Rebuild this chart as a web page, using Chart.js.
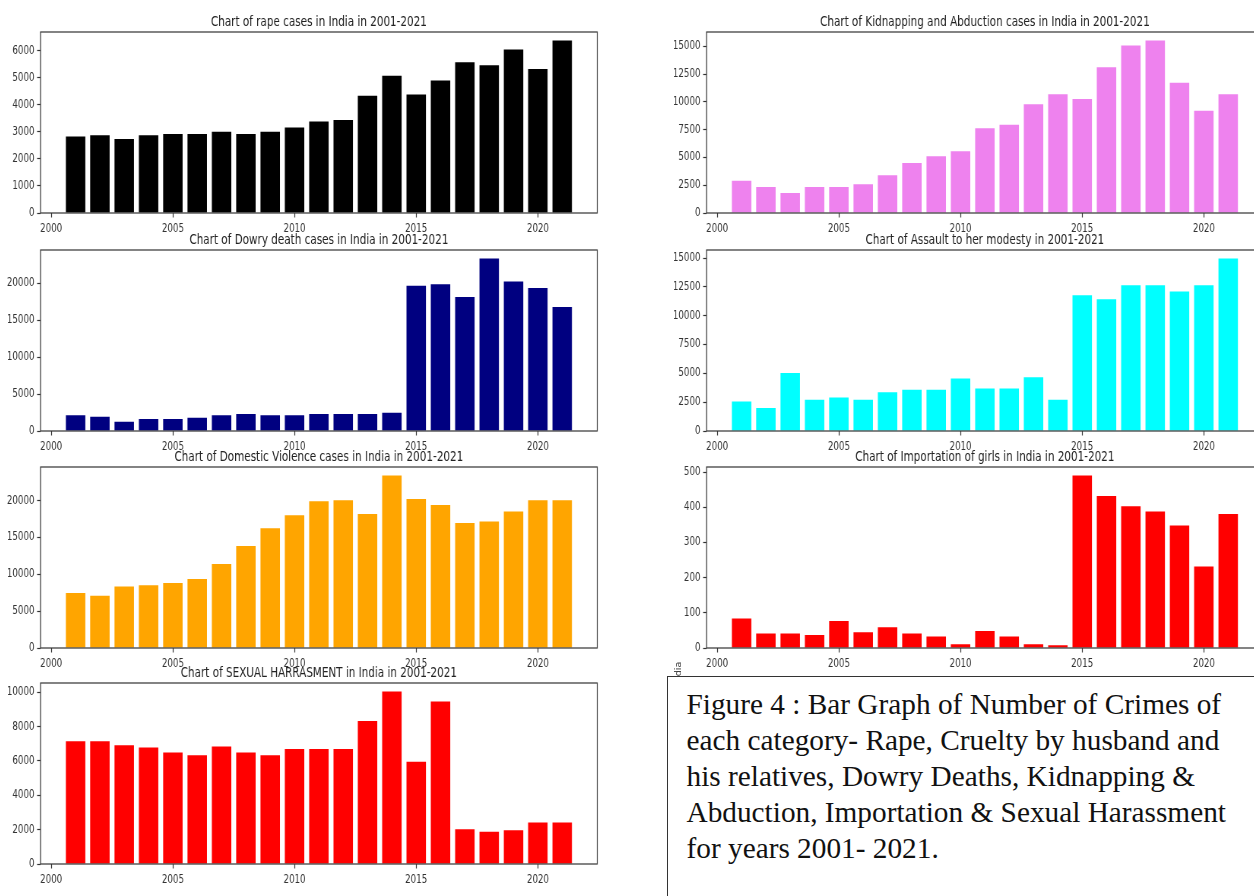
<!DOCTYPE html>
<html>
<head>
<meta charset="utf-8">
<script src="https://cdn.jsdelivr.net/npm/chart.js@4.4.0/dist/chart.umd.min.js"></script>
<style>
  body { margin: 0; width: 1254px; height: 896px; overflow: hidden; background: #fff; position: relative; }
  .panel { position: absolute; transform-origin: 0 0; }
  .ylab { position: absolute; left: 672px; top: 685px; font: 9.5px "DejaVu Sans"; color: #333;
          transform-origin: 0 0; transform: rotate(-90deg); white-space: nowrap; line-height: 12px; }
  .caption { position: absolute; left: 667px; top: 676px; width: 700px; height: 300px; box-sizing: border-box;
             border: 1.5px solid #333; background: #fff; color: #111; white-space: nowrap;
             font-family: "Liberation Serif", "Times New Roman", serif; font-size: 29.3px; line-height: 36.1px;
             padding: 9px 0 0 18.5px; }
</style>
</head>
<body>
<div class="ylab">India</div>
<div class="caption">Figure 4 : Bar Graph of Number of Crimes of<br>each category- Rape, Cruelty by husband and<br>his relatives, Dowry Deaths, Kidnapping &amp;<br>Abduction, Importation &amp; Sexual Harassment<br>for years 2001- 2021.</div>
<script>
const years = [2001, 2002, 2003, 2004, 2005, 2006, 2007, 2008, 2009, 2010, 2011,
               2012, 2013, 2014, 2015, 2016, 2017, 2018, 2019, 2020, 2021];
const yearTicks = [2000, 2005, 2010, 2015, 2020];

const rape = [2830, 2870, 2735, 2870, 2920, 2920, 3000, 2920, 3000, 3160, 3380,
              3440, 4330, 5070, 4380, 4900, 5570, 5460, 6040, 5320, 6370];
const kidnapping = [2910, 2340, 1800, 2340, 2340, 2580, 3390, 4500, 5100, 5550, 7620,
                    7950, 9780, 10680, 10260, 13110, 15060, 15510, 11730, 9210, 10680];
const dowry = [2120, 1940, 1260, 1625, 1625, 1800, 2120, 2300, 2120, 2120, 2300,
               2300, 2300, 2480, 19680, 19860, 18150, 23340, 20230, 19370, 16790];
const assault = [2550, 2000, 5020, 2700, 2900, 2700, 3370, 3570, 3570, 4560, 3690,
                 3690, 4670, 2700, 11780, 11430, 12650, 12650, 12100, 12650, 14950];
const domestic = [7470, 7100, 8330, 8500, 8820, 9370, 11400, 13850, 16240, 18000, 19900,
                  20050, 18190, 23390, 20230, 19410, 16970, 17150, 18510, 20050, 20050];
const importation = [84, 41, 41, 37, 77, 45, 59, 41, 33, 11, 48,
                     33, 11, 8, 490, 432, 403, 388, 348, 232, 381];
const harassment = [7150, 7150, 6910, 6780, 6490, 6330, 6840, 6490, 6330, 6700, 6700,
                    6700, 8330, 10040, 5960, 9460, 2020, 1880, 1960, 2410, 2410];

// col 0 = left, col 1 = right
const panels = [
  { title: 'Chart of rape cases in India in 2001-2021', values: rape, color: '#000000', step: 1000, col: 0, row: 0 },
  { title: 'Chart of Kidnapping and Abduction cases in India in 2001-2021', values: kidnapping, color: '#ee82ee', step: 2500, col: 1, row: 0 },
  { title: 'Chart of Dowry death cases in India in 2001-2021', values: dowry, color: '#000080', step: 5000, col: 0, row: 1 },
  { title: 'Chart of Assault to her modesty in 2001-2021', values: assault, color: '#00ffff', step: 2500, col: 1, row: 1 },
  { title: 'Chart of Domestic Violence cases in India in 2001-2021', values: domestic, color: '#ffa500', step: 5000, col: 0, row: 2 },
  { title: 'Chart of Importation of girls in India in 2001-2021', values: importation, color: '#ff0000', step: 100, col: 1, row: 2 },
  { title: 'Chart of SEXUAL HARRASMENT in India in 2001-2021', values: harassment, color: '#ff0000', step: 2000, col: 0, row: 3 }
];

// page layout of the axes boxes
const SX = 0.76;              // horizontal squeeze of each panel
const frameLeft = [40.3, 707];
const frameTop = [32.3, 249.7, 466.7, 683.3];
const frameH = 181;
const frameW = 556.7;
const Y_AXIS_W = 52, X_AXIS_H = 28, TOP_PAD = 30, RIGHT_PAD = 10;

const tickFont = { family: 'DejaVu Sans', size: 11.4 };
const inkColor = '#333';

// axes frame on all four sides plus a title centred over the plot area
const frameAndTitle = {
  id: 'frameAndTitle',
  afterDraw(chart, args, opts) {
    const { ctx, chartArea: a } = chart;
    ctx.save();
    ctx.strokeStyle = inkColor;
    ctx.lineWidth = 1.2;
    ctx.strokeRect(a.left, a.top, a.right - a.left, a.bottom - a.top);
    ctx.font = '13.7px "DejaVu Sans"';
    ctx.fillStyle = '#222';
    ctx.textAlign = 'center';
    ctx.textBaseline = 'alphabetic';
    ctx.fillText(opts.text, (a.left + a.right) / 2, a.top - 6.5);
    ctx.restore();
  }
};

// matplotlib-style bar limits: bars of width 0.8 plus 5% margins
const barLo = years[0] - 0.4, barHi = years[years.length - 1] + 0.4;
const xMin = barLo - 0.05 * (barHi - barLo);
const xMax = barHi + 0.05 * (barHi - barLo);

function stepTicks(step, max) {
  const out = [];
  for (let v = 0; v <= max; v += step) out.push({ value: v });
  return out;
}

panels.forEach(p => {
  const plotW = frameW / SX;
  const cw = Math.round(Y_AXIS_W + plotW + RIGHT_PAD);
  const ch = TOP_PAD + frameH + X_AXIS_H;
  const yMax = Math.max(...p.values) * 1.05;

  const wrap = document.createElement('div');
  wrap.className = 'panel';
  wrap.style.left = (frameLeft[p.col] - Y_AXIS_W * SX) + 'px';
  wrap.style.top = (frameTop[p.row] - TOP_PAD) + 'px';
  wrap.style.transform = 'scaleX(' + SX + ')';
  const canvas = document.createElement('canvas');
  canvas.width = cw;
  canvas.height = ch;
  canvas.style.width = cw + 'px';
  canvas.style.height = ch + 'px';
  wrap.appendChild(canvas);
  document.body.insertBefore(wrap, document.querySelector('.ylab'));

  new Chart(canvas.getContext('2d'), {
    type: 'bar',
    data: {
      datasets: [{
        data: years.map((x, i) => ({ x: x, y: p.values[i] })),
        backgroundColor: p.color,
        borderWidth: 0,
        barPercentage: 0.8,
        categoryPercentage: 1.0
      }]
    },
    options: {
      responsive: false,
      animation: false,
      devicePixelRatio: 1,
      layout: { padding: { left: 0, right: cw - Y_AXIS_W - plotW, top: TOP_PAD, bottom: 0 } },
      plugins: {
        legend: { display: false },
        tooltip: { enabled: false },
        frameAndTitle: { text: p.title }
      },
      scales: {
        x: {
          type: 'linear',
          min: xMin,
          max: xMax,
          offset: false,
          afterBuildTicks: ax => { ax.ticks = yearTicks.map(v => ({ value: v })); },
          afterFit: ax => { ax.height = X_AXIS_H; },
          grid: { offset: false, drawOnChartArea: false, drawTicks: true, tickLength: 4.5, tickColor: inkColor, tickWidth: 1.2 },
          border: { display: false },
          ticks: { font: tickFont, color: inkColor, padding: 5, maxRotation: 0, autoSkip: false, callback: v => String(v) }
        },
        y: {
          min: 0,
          max: yMax,
          afterBuildTicks: ax => { ax.ticks = stepTicks(p.step, yMax); },
          afterFit: ax => { ax.width = Y_AXIS_W; },
          grid: { drawOnChartArea: false, drawTicks: true, tickLength: 4.5, tickColor: inkColor, tickWidth: 1.2 },
          border: { display: false },
          ticks: { font: tickFont, color: inkColor, padding: 3.5, autoSkip: false, callback: v => String(v) }
        }
      }
    },
    plugins: [frameAndTitle]
  });
});
</script>
</body>
</html>
